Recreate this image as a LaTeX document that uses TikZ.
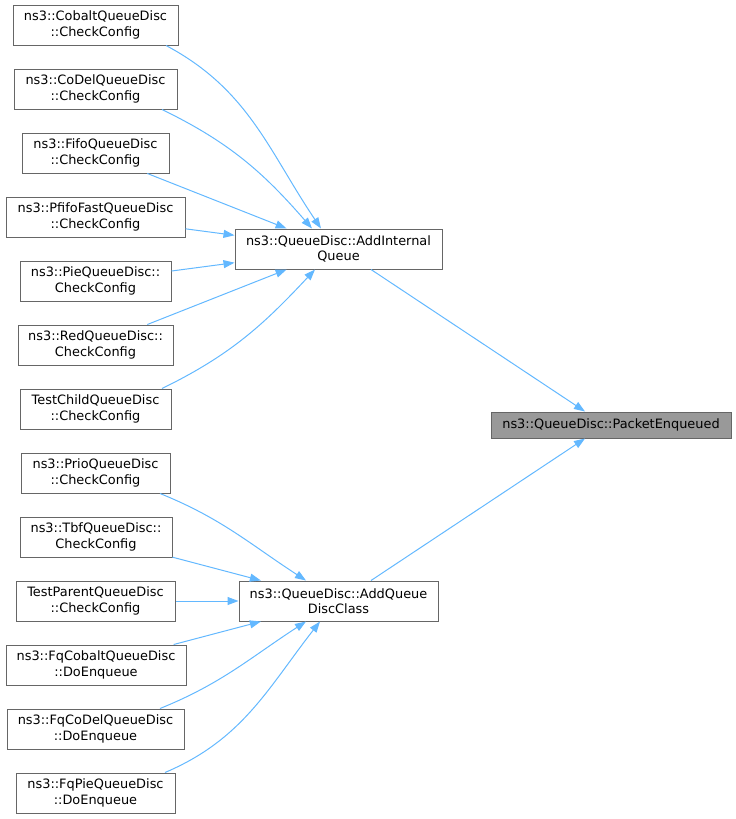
\documentclass[tikz,border=0pt]{standalone}
\usepackage{fontspec}
\setmainfont{DejaVu Sans}
\usetikzlibrary{arrows.meta}
\definecolor{edgeblue}{HTML}{63B8FF}
\definecolor{boxgray}{HTML}{666666}
\definecolor{fillgray}{HTML}{999999}
\begin{document}
\begin{tikzpicture}[x=1pt,y=-1pt,
  fn/.style={draw=boxgray,line width=1pt,fill=white,inner sep=0pt,minimum height=40pt,align=center,font=\fontsize{12.9}{15.6}\selectfont},
  tgt/.style={fn,fill=fillgray,minimum height=26pt},
  conn/.style={draw=edgeblue,line width=1pt,{Triangle[length=11pt,width=8pt]}-}]
\useasboundingbox (0,0) rectangle (736,819);
% left column, upper group
\node[fn,minimum width=165pt] (cobalt) at (95.5,25) {ns3::CobaltQueueDisc\\::CheckConfig};
\node[fn,minimum width=163pt] (codel) at (95.5,89) {ns3::CoDelQueueDisc\\::CheckConfig};
\node[fn,minimum width=147pt] (fifo) at (95.5,153) {ns3::FifoQueueDisc\\::CheckConfig};
\node[fn,minimum width=179pt] (pfifo) at (95.5,217) {ns3::PfifoFastQueueDisc\\::CheckConfig};
\node[fn,minimum width=151pt] (pie) at (95.5,281) {ns3::PieQueueDisc::\\CheckConfig};
\node[fn,minimum width=155pt] (red) at (95.5,345) {ns3::RedQueueDisc::\\CheckConfig};
\node[fn,minimum width=151pt] (tchild) at (95.5,409) {TestChildQueueDisc\\::CheckConfig};
% left column, lower group
\node[fn,minimum width=149pt] (prio) at (95.5,473) {ns3::PrioQueueDisc\\::CheckConfig};
\node[fn,minimum width=152pt] (tbf) at (96,537) {ns3::TbfQueueDisc::\\CheckConfig};
\node[fn,minimum width=159pt] (tparent) at (95.5,601) {TestParentQueueDisc\\::CheckConfig};
\node[fn,minimum width=180pt] (fqcobalt) at (96,665) {ns3::FqCobaltQueueDisc\\::DoEnqueue};
\node[fn,minimum width=177pt] (fqcodel) at (95.5,729) {ns3::FqCoDelQueueDisc\\::DoEnqueue};
\node[fn,minimum width=159pt] (fqpie) at (95.5,793) {ns3::FqPieQueueDisc\\::DoEnqueue};
% middle
\node[fn,minimum width=207pt] (addint) at (338.5,249) {ns3::QueueDisc::AddInternal\\Queue};
\node[fn,minimum width=199pt] (addqdc) at (338.5,601) {ns3::QueueDisc::AddQueue\\DiscClass};
% right
\node[tgt,minimum width=240pt] (pe) at (611,425) {ns3::QueueDisc::PacketEnqueued};
% edges to target
\draw[conn] ([xshift=-26pt]pe.north) -- ([xshift=32.5pt]addint.south);
\draw[conn] ([xshift=-26pt]pe.south) -- ([xshift=32.5pt]addqdc.north);
% edges upper group
\draw[conn] ([xshift=-17.5pt]addint.north) to[out=124,in=-28] ([xshift=70.5pt]cobalt.south);
\draw[conn] ([xshift=-26.5pt]addint.north) to[out=131,in=-26] ([xshift=66.5pt]codel.south);
\draw[conn] (addint) -- (fifo);
\draw[conn] (addint) -- (pfifo);
\draw[conn] (addint) -- (pie);
\draw[conn] (addint) -- (red);
\draw[conn] ([xshift=-23.5pt]addint.south) to[out=-133,in=26] ([xshift=66.5pt]tchild.north);
% edges lower group
\draw[conn] ([xshift=-32.5pt]addqdc.north) to[out=147,in=-22] ([xshift=64.5pt]prio.south);
\draw[conn] (addqdc) -- (tbf);
\draw[conn] (addqdc) -- (tparent);
\draw[conn] (addqdc) -- (fqcobalt);
\draw[conn] ([xshift=-32.5pt]addqdc.south) to[out=-147,in=22] ([xshift=64.5pt]fqcodel.north);
\draw[conn] ([xshift=-18.5pt]addqdc.south) to[out=-128,in=23] ([xshift=69.5pt]fqpie.north);
\end{tikzpicture}
\end{document}
